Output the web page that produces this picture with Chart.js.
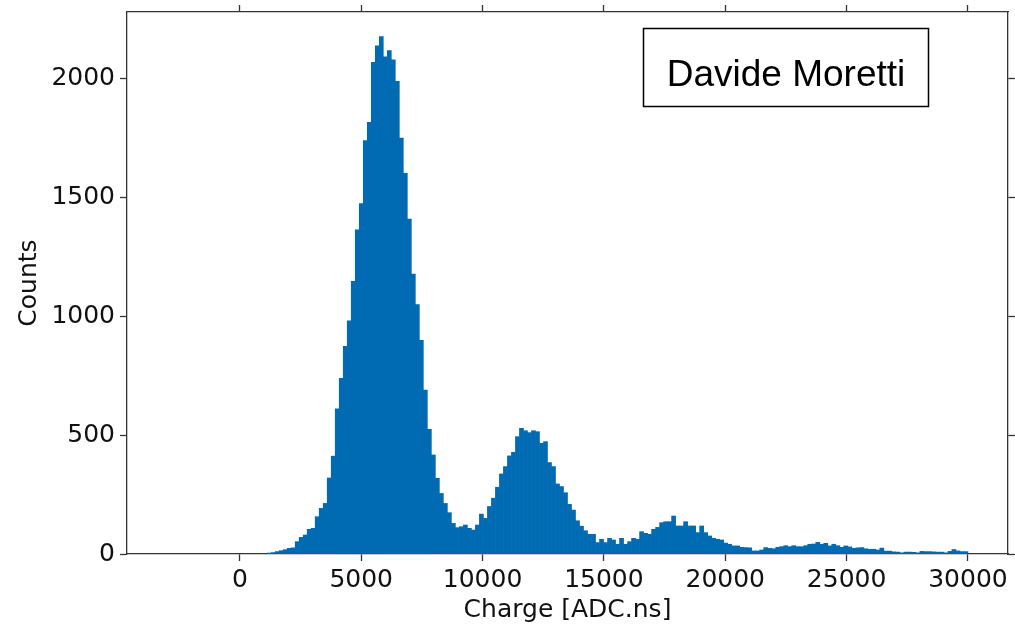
<!DOCTYPE html>
<html lang="en">
<head>
  <meta charset="UTF-8" />
  <title>Charge spectrum</title>
  <script src="https://cdn.jsdelivr.net/npm/chart.js"></script>
  <style>
    body { margin: 0; background: #fff; }
  </style>
</head>
<body>
  <canvas id="myChart" width="1015" height="624"></canvas>
  <script>
    // histogram: first non-empty bin edge and bin width in ADC.ns
    const firstEdge = 1125;
    const binWidth = 165;
    const counts = [
      4, 6, 10, 14, 18, 24, 26, 52, 70, 80, 104, 108, 157, 192, 213,
      320, 412, 611, 740, 874, 982, 1148, 1365, 1475, 1741, 1817, 2070, 2140, 2179,
      2093, 2120, 2081, 1990, 1751, 1603, 1410, 1179, 1050, 900, 690, 525, 417, 319,
      255, 213, 174, 129, 111, 115, 122, 108, 101, 122, 168, 150, 200, 235, 281,
      337, 368, 413, 428, 494, 529, 519, 511, 519, 515, 466, 473, 385, 368, 295,
      284, 258, 209, 185, 140, 117, 98, 83, 83, 48, 62, 48, 66, 59, 41,
      66, 41, 52, 66, 62, 94, 87, 83, 104, 112, 132, 136, 136, 160, 118,
      118, 136, 118, 118, 90, 118, 90, 76, 66, 62, 59, 46, 41, 34, 34,
      28, 27, 26, 13, 13, 17, 27, 24, 22, 28, 31, 35, 31, 35, 31,
      31, 35, 41, 42, 49, 41, 45, 34, 41, 35, 28, 34, 30, 24, 26,
      27, 22, 20, 20, 17, 25, 12, 12, 9, 8, 5, 8, 8, 7, 5,
      11, 10, 10, 9, 8, 8, 5, 11, 19, 13, 10, 10
    ];
    const xTicks = [0, 5000, 10000, 15000, 20000, 25000, 30000];
    const yTicks = [0, 500, 1000, 1500, 2000];
    const xRange = [-4650, 31650];
    const yRange = [0, 2282];

    const points = counts.map(function (c, i) {
      return { x: firstEdge + binWidth * (i + 0.5), y: c };
    });

    const font = { family: 'DejaVu Sans', size: 25 };
    const spine = { display: true, color: '#333', width: 1.3 };
    const tickMarks = { offset: false, drawOnChartArea: false, drawTicks: true, tickLength: 7, tickWidth: 1.3, tickColor: '#333' };

    function setTicks(values) {
      return function (scale) {
        scale.ticks = values.map(function (v) { return { value: v }; });
      };
    }
    // fixed axis size, and no extra room for overhanging labels
    function setSize(key, px) {
      return function (scale) {
        scale[key] = px;
        scale.paddingTop = 0;
        scale.paddingBottom = 0;
        scale.paddingLeft = 0;
        scale.paddingRight = 0;
      };
    }

    // the name box in the upper right corner
    const nameBox = {
      id: 'nameBox',
      afterDraw: function (chart) {
        const ctx = chart.ctx;
        ctx.save();
        ctx.fillStyle = '#fff';
        ctx.fillRect(643.5, 28.5, 285, 78);
        ctx.strokeStyle = '#000';
        ctx.lineWidth = 1.5;
        ctx.strokeRect(643.5, 28.5, 285, 78);
        ctx.font = '37px "Liberation Sans", Arial, sans-serif';
        ctx.fillStyle = '#000';
        ctx.textAlign = 'center';
        ctx.textBaseline = 'alphabetic';
        ctx.fillText('Davide Moretti', 786, 86);
        ctx.restore();
      }
    };

    const ctx = document.getElementById('myChart').getContext('2d');
    const myChart = new Chart(ctx, {
      type: 'bar',
      data: {
        datasets: [{
          label: 'Charge',
          data: points,
          backgroundColor: '#006AB3',
          borderWidth: 0,
          barPercentage: 1,
          categoryPercentage: 1,
          xAxisID: 'x',
          yAxisID: 'y'
        }]
      },
      options: {
        responsive: false,
        animation: false,
        layout: { padding: 0 },
        plugins: { legend: { display: false }, tooltip: { enabled: false } },
        scales: {
          x: {
            type: 'linear', position: 'bottom', min: xRange[0], max: xRange[1], offset: false,
            afterBuildTicks: setTicks(xTicks), afterFit: setSize('height', 70),
            grid: tickMarks, border: spine,
            ticks: { font: font, color: '#111', padding: 4, maxRotation: 0, autoSkip: false, callback: function (v) { return String(v); } },
            title: { display: true, text: 'Charge [ADC.ns]', font: font, color: '#111', padding: { top: 0, bottom: -1 } }
          },
          xTop: {
            type: 'linear', position: 'top', min: xRange[0], max: xRange[1], offset: false,
            afterBuildTicks: setTicks(xTicks), afterFit: setSize('height', 12),
            grid: tickMarks, border: spine, ticks: { display: false }
          },
          y: {
            type: 'linear', position: 'left', min: yRange[0], max: yRange[1],
            afterBuildTicks: setTicks(yTicks), afterFit: setSize('width', 127),
            grid: tickMarks, border: spine,
            ticks: { font: font, color: '#111', padding: 5, autoSkip: false, callback: function (v) { return String(v); } },
            title: { display: true, text: 'Counts', font: font, color: '#111', padding: { top: 14, bottom: 0 } }
          },
          yRight: {
            type: 'linear', position: 'right', min: yRange[0], max: yRange[1],
            afterBuildTicks: setTicks(yTicks), afterFit: setSize('width', 7),
            grid: tickMarks, border: spine, ticks: { display: false }
          }
        }
      },
      plugins: [nameBox]
    });
  </script>
</body>
</html>
